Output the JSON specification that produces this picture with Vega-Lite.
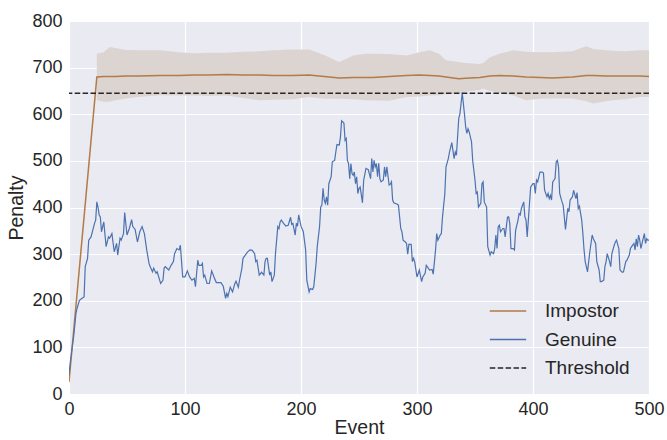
{
  "$schema": "https://vega.github.io/schema/vega-lite/v6.json",
  "width": 580,
  "height": 373,
  "autosize": {"type": "none"},
  "padding": {"left": 69, "top": 21, "right": 18, "bottom": 46},
  "background": "white",
  "config": {
    "font": "Liberation Sans",
    "view": {"stroke": null, "fill": "#EAEAF2"},
    "axis": {
      "grid": true, "gridColor": "white", "gridWidth": 1.2, "domain": false, "ticks": false,
      "labelFontSize": 18, "titleFontSize": 19.5, "labelColor": "#262626", "titleColor": "#262626",
      "titleFontWeight": "normal", "labelFlush": false, "labelOverlap": false
    }
  },
  "datasets": {
    "genuine": [
      {"event":0,"penalty":42},{"event":1,"penalty":66},{"event":3,"penalty":105},{"event":4,"penalty":123},{"event":6,"penalty":173},{"event":7,"penalty":184},{"event":9,"penalty":201},{"event":11,"penalty":205},{"event":13,"penalty":208},{"event":14,"penalty":273},{"event":16,"penalty":291},{"event":17,"penalty":330},{"event":19,"penalty":337},{"event":22,"penalty":366},{"event":23,"penalty":373},{"event":24,"penalty":412},{"event":25,"penalty":401},{"event":26,"penalty":384},{"event":27,"penalty":380},{"event":28,"penalty":348},{"event":30,"penalty":369},{"event":32,"penalty":316},{"event":34,"penalty":337},{"event":35,"penalty":334},{"event":37,"penalty":344},{"event":39,"penalty":305},{"event":41,"penalty":323},{"event":42,"penalty":298},{"event":44,"penalty":334},{"event":45,"penalty":330},{"event":47,"penalty":344},{"event":48,"penalty":389},{"event":50,"penalty":341},{"event":52,"penalty":355},{"event":54,"penalty":374},{"event":55,"penalty":359},{"event":57,"penalty":353},{"event":59,"penalty":326},{"event":61,"penalty":348},{"event":63,"penalty":359},{"event":65,"penalty":344},{"event":67,"penalty":309},{"event":69,"penalty":280},{"event":70,"penalty":273},{"event":72,"penalty":262},{"event":73,"penalty":270},{"event":75,"penalty":259},{"event":76,"penalty":262},{"event":79,"penalty":237},{"event":81,"penalty":244},{"event":82,"penalty":270},{"event":83,"penalty":273},{"event":86,"penalty":266},{"event":88,"penalty":276},{"event":90,"penalty":284},{"event":91,"penalty":301},{"event":93,"penalty":312},{"event":95,"penalty":309},{"event":96,"penalty":319},{"event":98,"penalty":251},{"event":100,"penalty":251},{"event":102,"penalty":264},{"event":104,"penalty":251},{"event":106,"penalty":244},{"event":108,"penalty":248},{"event":109,"penalty":230},{"event":111,"penalty":287},{"event":112,"penalty":276},{"event":114,"penalty":276},{"event":115,"penalty":280},{"event":116,"penalty":251},{"event":117,"penalty":255},{"event":119,"penalty":237},{"event":121,"penalty":237},{"event":123,"penalty":264},{"event":125,"penalty":251},{"event":127,"penalty":239},{"event":131,"penalty":239},{"event":133,"penalty":231},{"event":135,"penalty":205},{"event":136,"penalty":216},{"event":137,"penalty":209},{"event":139,"penalty":229},{"event":141,"penalty":219},{"event":143,"penalty":237},{"event":144,"penalty":242},{"event":146,"penalty":229},{"event":147,"penalty":244},{"event":149,"penalty":269},{"event":150,"penalty":291},{"event":152,"penalty":298},{"event":154,"penalty":305},{"event":156,"penalty":309},{"event":158,"penalty":308},{"event":160,"penalty":301},{"event":161,"penalty":284},{"event":162,"penalty":287},{"event":164,"penalty":255},{"event":166,"penalty":261},{"event":168,"penalty":255},{"event":169,"penalty":284},{"event":170,"penalty":291},{"event":171,"penalty":291},{"event":173,"penalty":255},{"event":174,"penalty":262},{"event":175,"penalty":241},{"event":177,"penalty":255},{"event":178,"penalty":301},{"event":180,"penalty":359},{"event":181,"penalty":355},{"event":182,"penalty":369},{"event":183,"penalty":373},{"event":185,"penalty":366},{"event":187,"penalty":360},{"event":189,"penalty":362},{"event":191,"penalty":379},{"event":192,"penalty":364},{"event":193,"penalty":366},{"event":195,"penalty":341},{"event":196,"penalty":366},{"event":197,"penalty":360},{"event":198,"penalty":384},{"event":200,"penalty":360},{"event":202,"penalty":348},{"event":204,"penalty":309},{"event":205,"penalty":244},{"event":207,"penalty":219},{"event":208,"penalty":226},{"event":210,"penalty":224},{"event":211,"penalty":230},{"event":213,"penalty":280},{"event":214,"penalty":316},{"event":216,"penalty":359},{"event":217,"penalty":401},{"event":218,"penalty":405},{"event":219,"penalty":441},{"event":220,"penalty":416},{"event":221,"penalty":409},{"event":222,"penalty":423},{"event":223,"penalty":405},{"event":224,"penalty":451},{"event":226,"penalty":466},{"event":227,"penalty":498},{"event":229,"penalty":501},{"event":230,"penalty":519},{"event":231,"penalty":535},{"event":233,"penalty":534},{"event":234,"penalty":551},{"event":235,"penalty":586},{"event":237,"penalty":581},{"event":238,"penalty":544},{"event":239,"penalty":548},{"event":240,"penalty":501},{"event":241,"penalty":494},{"event":242,"penalty":462},{"event":243,"penalty":494},{"event":244,"penalty":473},{"event":245,"penalty":469},{"event":246,"penalty":476},{"event":247,"penalty":451},{"event":248,"penalty":466},{"event":249,"penalty":430},{"event":250,"penalty":441},{"event":251,"penalty":444},{"event":253,"penalty":410},{"event":254,"penalty":458},{"event":256,"penalty":484},{"event":258,"penalty":481},{"event":260,"penalty":462},{"event":261,"penalty":505},{"event":262,"penalty":476},{"event":263,"penalty":501},{"event":264,"penalty":487},{"event":265,"penalty":494},{"event":266,"penalty":466},{"event":267,"penalty":495},{"event":268,"penalty":462},{"event":269,"penalty":455},{"event":271,"penalty":459},{"event":272,"penalty":487},{"event":273,"penalty":466},{"event":274,"penalty":487},{"event":276,"penalty":448},{"event":277,"penalty":450},{"event":278,"penalty":455},{"event":279,"penalty":416},{"event":280,"penalty":410},{"event":283,"penalty":407},{"event":284,"penalty":405},{"event":286,"penalty":355},{"event":287,"penalty":348},{"event":288,"penalty":330},{"event":290,"penalty":326},{"event":291,"penalty":323},{"event":292,"penalty":300},{"event":293,"penalty":321},{"event":295,"penalty":321},{"event":296,"penalty":284},{"event":297,"penalty":291},{"event":298,"penalty":284},{"event":300,"penalty":251},{"event":302,"penalty":266},{"event":304,"penalty":241},{"event":305,"penalty":251},{"event":307,"penalty":259},{"event":308,"penalty":276},{"event":310,"penalty":269},{"event":311,"penalty":266},{"event":313,"penalty":267},{"event":314,"penalty":257},{"event":316,"penalty":309},{"event":317,"penalty":344},{"event":318,"penalty":330},{"event":320,"penalty":341},{"event":321,"penalty":344},{"event":322,"penalty":380},{"event":324,"penalty":430},{"event":325,"penalty":487},{"event":327,"penalty":505},{"event":328,"penalty":519},{"event":330,"penalty":539},{"event":331,"penalty":522},{"event":332,"penalty":505},{"event":333,"penalty":519},{"event":334,"penalty":512},{"event":336,"penalty":591},{"event":337,"penalty":601},{"event":339,"penalty":646},{"event":341,"penalty":598},{"event":342,"penalty":572},{"event":343,"penalty":559},{"event":344,"penalty":569},{"event":345,"penalty":562},{"event":347,"penalty":541},{"event":348,"penalty":501},{"event":350,"penalty":459},{"event":351,"penalty":430},{"event":352,"penalty":433},{"event":353,"penalty":401},{"event":355,"penalty":409},{"event":356,"penalty":451},{"event":357,"penalty":455},{"event":358,"penalty":412},{"event":360,"penalty":401},{"event":361,"penalty":316},{"event":363,"penalty":298},{"event":364,"penalty":305},{"event":366,"penalty":301},{"event":367,"penalty":312},{"event":368,"penalty":341},{"event":369,"penalty":312},{"event":370,"penalty":359},{"event":371,"penalty":362},{"event":372,"penalty":348},{"event":374,"penalty":355},{"event":375,"penalty":355},{"event":376,"penalty":337},{"event":378,"penalty":379},{"event":379,"penalty":380},{"event":380,"penalty":366},{"event":381,"penalty":312},{"event":383,"penalty":312},{"event":384,"penalty":309},{"event":385,"penalty":351},{"event":387,"penalty":372},{"event":388,"penalty":387},{"event":389,"penalty":384},{"event":390,"penalty":398},{"event":392,"penalty":412},{"event":393,"penalty":380},{"event":394,"penalty":373},{"event":395,"penalty":337},{"event":397,"penalty":409},{"event":398,"penalty":444},{"event":400,"penalty":451},{"event":401,"penalty":451},{"event":402,"penalty":430},{"event":403,"penalty":459},{"event":404,"penalty":455},{"event":406,"penalty":476},{"event":408,"penalty":476},{"event":409,"penalty":474},{"event":410,"penalty":437},{"event":412,"penalty":423},{"event":413,"penalty":430},{"event":414,"penalty":419},{"event":415,"penalty":426},{"event":416,"penalty":416},{"event":417,"penalty":455},{"event":419,"penalty":462},{"event":420,"penalty":498},{"event":421,"penalty":501},{"event":422,"penalty":487},{"event":423,"penalty":430},{"event":425,"penalty":412},{"event":426,"penalty":405},{"event":428,"penalty":353},{"event":430,"penalty":398},{"event":431,"penalty":391},{"event":432,"penalty":416},{"event":434,"penalty":423},{"event":435,"penalty":437},{"event":437,"penalty":419},{"event":438,"penalty":432},{"event":439,"penalty":398},{"event":440,"penalty":403},{"event":442,"penalty":373},{"event":443,"penalty":344},{"event":444,"penalty":309},{"event":445,"penalty":284},{"event":447,"penalty":262},{"event":448,"penalty":284},{"event":449,"penalty":305},{"event":451,"penalty":341},{"event":452,"penalty":333},{"event":454,"penalty":323},{"event":455,"penalty":284},{"event":457,"penalty":266},{"event":458,"penalty":241},{"event":459,"penalty":241},{"event":461,"penalty":244},{"event":462,"penalty":273},{"event":463,"penalty":284},{"event":464,"penalty":301},{"event":466,"penalty":284},{"event":467,"penalty":273},{"event":468,"penalty":301},{"event":470,"penalty":319},{"event":471,"penalty":326},{"event":472,"penalty":330},{"event":474,"penalty":312},{"event":475,"penalty":266},{"event":477,"penalty":261},{"event":478,"penalty":262},{"event":480,"penalty":284},{"event":481,"penalty":287},{"event":483,"penalty":298},{"event":484,"penalty":312},{"event":485,"penalty":316},{"event":487,"penalty":323},{"event":488,"penalty":309},{"event":489,"penalty":333},{"event":490,"penalty":316},{"event":491,"penalty":341},{"event":492,"penalty":330},{"event":493,"penalty":312},{"event":494,"penalty":323},{"event":496,"penalty":344},{"event":497,"penalty":323},{"event":498,"penalty":333},{"event":499,"penalty":330},{"event":500,"penalty":330}
    ],
    "impostor": [
      {"event":0,"mean":26},
      {"event":24,"mean":680,"lo":630,"hi":730},{"event":30,"mean":681,"lo":627,"hi":733},{"event":35,"mean":681,"lo":627,"hi":744},{"event":40,"mean":681,"lo":630,"hi":742},{"event":49,"mean":682,"lo":634,"hi":738},{"event":60,"mean":682,"lo":637,"hi":737},{"event":78,"mean":683,"lo":641,"hi":737},{"event":95,"mean":683,"lo":640,"hi":733},{"event":107,"mean":684,"lo":640,"hi":731},{"event":120,"mean":684,"lo":639,"hi":732},{"event":136,"mean":685,"lo":640,"hi":732},{"event":150,"mean":684,"lo":635,"hi":734},{"event":164,"mean":684,"lo":630,"hi":735},{"event":176,"mean":683,"lo":631,"hi":737},{"event":193,"mean":683,"lo":632,"hi":739},{"event":207,"mean":684,"lo":637,"hi":739},{"event":220,"mean":681,"lo":633,"hi":727},{"event":233,"mean":678,"lo":633,"hi":712},{"event":245,"mean":679,"lo":632,"hi":726},{"event":256,"mean":679,"lo":630,"hi":730},{"event":262,"mean":679,"lo":630,"hi":730},{"event":276,"mean":681,"lo":629,"hi":729},{"event":291,"mean":683,"lo":637,"hi":726},{"event":302,"mean":684,"lo":638,"hi":733},{"event":311,"mean":683,"lo":640,"hi":737},{"event":319,"mean":682,"lo":641,"hi":730},{"event":325,"mean":680,"lo":643,"hi":716},{"event":336,"mean":676,"lo":645,"hi":712},{"event":342,"mean":677,"lo":648,"hi":710},{"event":354,"mean":679,"lo":652,"hi":708},{"event":357,"mean":680,"lo":655,"hi":710},{"event":363,"mean":682,"lo":650,"hi":722},{"event":371,"mean":683,"lo":646,"hi":730},{"event":383,"mean":682,"lo":640,"hi":737},{"event":394,"mean":680,"lo":630,"hi":734},{"event":406,"mean":679,"lo":633,"hi":733},{"event":417,"mean":678,"lo":634,"hi":733},{"event":434,"mean":680,"lo":634,"hi":735},{"event":446,"mean":683,"lo":628,"hi":746},{"event":452,"mean":683,"lo":623,"hi":740},{"event":463,"mean":682,"lo":628,"hi":737},{"event":469,"mean":682,"lo":630,"hi":736},{"event":480,"mean":682,"lo":632,"hi":735},{"event":492,"mean":682,"lo":637,"hi":737},{"event":500,"mean":681,"lo":637,"hi":737}
    ],
    "threshold": [{"threshold": 645}]
  },
  "layer": [
    {
      "data": {"name": "impostor"},
      "mark": {"type": "area", "color": "#DCD4D1", "opacity": 1, "clip": true},
      "encoding": {
        "x": {"field": "event", "type": "quantitative", "scale": {"domain": [0, 500], "nice": false}, "axis": {"title": "Event", "values": [0,100,200,300,400,500], "labelPadding": 6, "titlePadding": 0}},
        "y": {"field": "lo", "type": "quantitative", "scale": {"domain": [0, 800], "nice": false}, "axis": {"title": "Penalty", "values": [0,100,200,300,400,500,600,700,800], "labelPadding": 7, "titlePadding": 5}},
        "y2": {"field": "hi"}
      }
    },
    {
      "data": {"name": "impostor"},
      "mark": {"type": "line", "strokeWidth": 1.5, "clip": true},
      "encoding": {
        "x": {"field": "event", "type": "quantitative"},
        "y": {"field": "mean", "type": "quantitative"},
        "color": {"datum": "Impostor"}
      }
    },
    {
      "data": {"name": "genuine"},
      "mark": {"type": "line", "strokeWidth": 1.2, "clip": true},
      "encoding": {
        "x": {"field": "event", "type": "quantitative"},
        "y": {"field": "penalty", "type": "quantitative"},
        "color": {"datum": "Genuine"}
      }
    },
    {
      "data": {"name": "threshold"},
      "mark": {"type": "rule", "strokeWidth": 1.5, "strokeDash": [5.5, 2.4]},
      "encoding": {
        "y": {"field": "threshold", "type": "quantitative"},
        "color": {
          "datum": "Threshold",
          "scale": {"domain": ["Impostor", "Genuine", "Threshold"], "range": ["#B27B47", "#4C72B0", "#262626"]},
          "legend": {
            "title": null, "orient": "none", "legendX": 424, "legendY": 275,
            "symbolType": "M-1.3,0H1.3", "symbolSize": 784, "symbolStrokeWidth": 1.5,
            "labelFontSize": 19, "labelColor": "#262626", "labelOffset": 22, "rowPadding": 3.5,
            "encode": {"symbols": {"update": {"strokeDash": {"signal": "datum.label === 'Threshold' ? [5.5, 2.4] : [1, 0]"}}}}
          }
        }
      }
    }
  ]
}
